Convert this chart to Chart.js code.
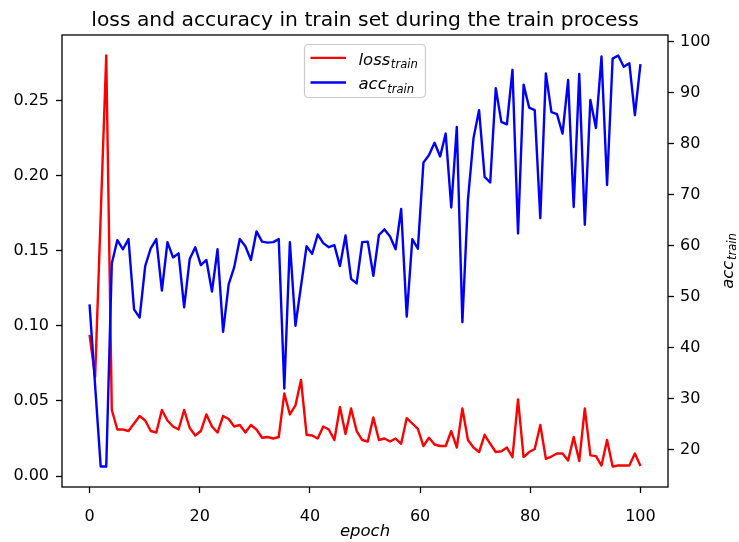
<!DOCTYPE html>
<html>
<head>
<meta charset="utf-8">
<script src="https://cdn.jsdelivr.net/npm/chart.js@4.4.0/dist/chart.umd.min.js"></script>
<style>
  html, body { margin: 0; padding: 0; background: #fff; }
  #wrap { width: 739px; height: 542px; }
</style>
</head>
<body>
<div id="wrap"><canvas id="chart" width="739" height="542"></canvas></div>
<script>
const titleText = 'loss and accuracy in train set during the train process';

const lossTrain = [
  0.094, 0.066, 0.173, 0.280, 0.044, 0.031, 0.031, 0.030, 0.035, 0.040,
  0.037, 0.030, 0.029, 0.044, 0.037, 0.033, 0.031, 0.044, 0.032, 0.027,
  0.030, 0.041, 0.033, 0.029, 0.040, 0.038, 0.033, 0.034, 0.029, 0.034,
  0.031, 0.0255, 0.026, 0.025, 0.026, 0.055, 0.041, 0.047, 0.064, 0.0275,
  0.027, 0.025, 0.033, 0.031, 0.024, 0.046, 0.028, 0.045, 0.030, 0.024,
  0.023, 0.039, 0.024, 0.025, 0.023, 0.025, 0.0215, 0.0386, 0.035, 0.0315,
  0.020, 0.0255, 0.021, 0.020, 0.020, 0.030, 0.019, 0.045, 0.024, 0.019,
  0.016, 0.0275, 0.0215, 0.016, 0.0165, 0.019, 0.0126, 0.051, 0.0126, 0.016,
  0.018, 0.034, 0.0115, 0.013, 0.015, 0.015, 0.0104, 0.026, 0.010, 0.045,
  0.0138, 0.0133, 0.007, 0.024, 0.0064, 0.007, 0.007, 0.007, 0.015, 0.0067
];

const accTrain = [
  48.5, 32.6, 16.7, 16.7, 56.5, 61.1, 59.3, 61.3, 47.5, 45.9,
  56.0, 59.5, 61.3, 51.2, 60.7, 57.7, 58.5, 47.9, 57.4, 59.7,
  56.2, 57.2, 51.0, 59.3, 43.1, 52.4, 55.8, 61.3, 59.9, 57.2,
  62.8, 60.8, 60.6, 60.7, 61.3, 32.0, 60.7, 44.3, 52.1, 59.9,
  58.4, 62.2, 60.5, 59.7, 60.1, 56.0, 62.0, 53.5, 52.6, 60.7,
  60.8, 54.1, 62.1, 63.2, 61.8, 59.3, 67.2, 46.1, 61.3, 59.4,
  76.3, 77.8, 80.2, 77.5, 82.0, 67.5, 83.3, 45.0, 69.0, 81.1,
  86.6, 73.5, 72.4, 90.9, 84.3, 83.8, 94.5, 62.4, 91.6, 87.1,
  86.6, 65.4, 93.8, 86.2, 85.8, 82.0, 92.5, 67.6, 93.7, 64.1,
  88.6, 83.1, 97.1, 71.9, 96.7, 97.3, 95.1, 95.8, 85.6, 95.6
];

const xTicks = [0, 20, 40, 60, 80, 100];
const lossTicks = [0, 0.05, 0.10, 0.15, 0.20, 0.25];
const accTicks = [20, 30, 40, 50, 60, 70, 80, 90, 100];

// 100 samples spread evenly over epoch 0..100
const epochs = lossTrain.map((_, i) => i * 100 / (lossTrain.length - 1));

const FONT = "'DejaVu Sans', sans-serif";

// matplotlib style 5% margins around the data
function padded(values, frac) {
  const lo = Math.min(...values), hi = Math.max(...values);
  const m = (hi - lo) * frac;
  return { min: lo - m, max: hi + m };
}
const xRange = padded(epochs, 0.05);
const lossRange = padded(lossTrain, 0.05);
const accRange = padded(accTrain, 0.05);

function fixTicks(values) {
  return scale => { scale.ticks = values.map(v => ({ value: v })); };
}

const tickGrid = {
  drawOnChartArea: false,
  drawTicks: true,
  tickLength: 6,
  tickColor: '#000',
  tickWidth: 1.3
};

function subText(ctx, x, y, main, sub, size) {
  ctx.font = `italic ${size}px ${FONT}`;
  ctx.fillText(main, x, y);
  const w = ctx.measureText(main).width;
  ctx.font = `italic ${size * 0.7}px ${FONT}`;
  ctx.fillText(sub, x + w + 0.5, y + size * 0.2);
}

function subWidth(ctx, main, sub, size) {
  ctx.font = `italic ${size}px ${FONT}`;
  const w = ctx.measureText(main).width;
  ctx.font = `italic ${size * 0.7}px ${FONT}`;
  return w + 0.5 + ctx.measureText(sub).width;
}

const decorations = {
  id: 'decorations',
  afterDatasetsDraw(chart) {
    const { ctx, chartArea: a } = chart;
    const cx = (a.left + a.right) / 2;
    ctx.save();
    // axes frame
    ctx.strokeStyle = '#000';
    ctx.lineWidth = 1.3;
    ctx.strokeRect(a.left, a.top, a.right - a.left, a.bottom - a.top);

    // title, centred over the axes
    ctx.fillStyle = '#000';
    ctx.textAlign = 'center';
    ctx.textBaseline = 'alphabetic';
    ctx.font = `20.3px ${FONT}`;
    ctx.fillText(titleText, cx, 25.5);

    // legend, upper center
    const lw = 121, lh = 53;
    const lx = cx - lw / 2, ly = a.top + 9.5;
    ctx.beginPath();
    ctx.roundRect(lx, ly, lw, lh, 4);
    ctx.fillStyle = 'rgba(255,255,255,0.8)';
    ctx.fill();
    ctx.strokeStyle = '#cccccc';
    ctx.lineWidth = 1.2;
    ctx.stroke();

    const rows = [
      { color: '#ff0000', main: 'loss', sub: 'train', dy: 13.4, base: 20 },
      { color: '#0000ff', main: 'acc', sub: 'train', dy: 38, base: 44.7 }
    ];
    rows.forEach(r => {
      ctx.strokeStyle = r.color;
      ctx.lineWidth = 2.4;
      ctx.beginPath();
      ctx.moveTo(lx + 6, ly + r.dy);
      ctx.lineTo(lx + 41.5, ly + r.dy);
      ctx.stroke();
      ctx.fillStyle = '#000';
      ctx.textAlign = 'left';
      ctx.textBaseline = 'alphabetic';
      subText(ctx, lx + 54, ly + r.base, r.main, r.sub, 16.5);
    });

    // x label
    ctx.fillStyle = '#000';
    ctx.textAlign = 'center';
    ctx.textBaseline = 'alphabetic';
    ctx.font = `italic 16.5px ${FONT}`;
    ctx.fillText('epoch', cx, 535.5);

    // right y label, rotated
    const cy = (a.top + a.bottom) / 2;
    ctx.translate(733, cy);
    ctx.rotate(-Math.PI / 2);
    ctx.textAlign = 'left';
    const tw = subWidth(ctx, 'acc', 'train', 16.5);
    subText(ctx, -tw / 2, 0, 'acc', 'train', 16.5);
    ctx.restore();
  }
};

new Chart(document.getElementById('chart').getContext('2d'), {
  type: 'line',
  data: {
    datasets: [
      {
        label: 'loss_train',
        data: epochs.map((x, i) => ({ x, y: lossTrain[i] })),
        borderColor: '#ff0000',
        borderWidth: 2.4,
        pointRadius: 0,
        tension: 0,
        borderJoinStyle: 'round',
        yAxisID: 'yLoss',
        order: 1
      },
      {
        label: 'acc_train',
        data: epochs.map((x, i) => ({ x, y: accTrain[i] })),
        borderColor: '#0000ff',
        borderWidth: 2.4,
        pointRadius: 0,
        tension: 0,
        borderJoinStyle: 'round',
        yAxisID: 'yAcc',
        order: 0
      }
    ]
  },
  options: {
    responsive: false,
    animation: false,
    devicePixelRatio: 1,
    layout: { padding: { top: 35 } },
    plugins: {
      legend: { display: false },
      tooltip: { enabled: false },
      title: { display: false }
    },
    scales: {
      x: {
        type: 'linear',
        position: 'bottom',
        min: xRange.min,
        max: xRange.max,
        afterBuildTicks: fixTicks(xTicks),
        afterFit: s => { s.height = 55; },
        grid: tickGrid,
        border: { display: false },
        ticks: { color: '#000', font: { family: FONT, size: 16 }, padding: 14, maxRotation: 0 }
      },
      yLoss: {
        type: 'linear',
        position: 'left',
        min: lossRange.min,
        max: lossRange.max,
        afterBuildTicks: fixTicks(lossTicks),
        afterFit: s => { s.width = 62; },
        grid: tickGrid,
        border: { display: false },
        ticks: { color: '#000', font: { family: FONT, size: 16 }, padding: 7,
                 callback: v => v.toFixed(2) }
      },
      yAcc: {
        type: 'linear',
        position: 'right',
        min: accRange.min,
        max: accRange.max,
        afterBuildTicks: fixTicks(accTicks),
        afterFit: s => { s.width = 71; },
        grid: tickGrid,
        border: { display: false },
        ticks: { color: '#000', font: { family: FONT, size: 16 }, padding: 6 }
      }
    }
  },
  plugins: [decorations]
});
</script>
</body>
</html>
